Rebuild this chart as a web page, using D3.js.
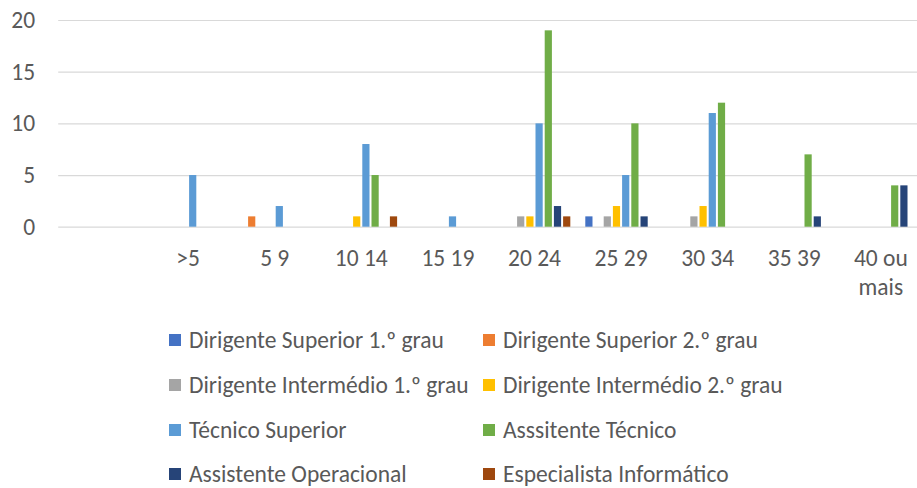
<!DOCTYPE html>
<html>
<head>
<meta charset="utf-8">
<script src="https://cdn.jsdelivr.net/npm/d3@7"></script>
<style>
  body { margin: 0; background: #fff; }
  text { font-family: Calibri, Carlito, Lato, sans-serif; fill: #595959; }
</style>
</head>
<body>
<div id="chart"></div>
<script>
// Categorias (a primeira vem vazia na folha original)
const categorias = ["", ">5", "5 9", "10 14", "15 19", "20 24", "25 29", "30 34", "35 39", "40 ou mais"];

// Series (nomes e valores por categoria)
const series = [
  "Dirigente Superior 1.º grau",
  "Dirigente Superior 2.º grau",
  "Dirigente Intermédio 1.º grau",
  "Dirigente Intermédio 2.º grau",
  "Técnico Superior",
  "Asssitente Técnico",
  "Assistente Operacional",
  "Especialista Informático"
];
const dirigenteSup1 = [0, 0, 0, 0, 0, 0, 1, 0, 0, 0];
const dirigenteSup2 = [0, 0, 1, 0, 0, 0, 0, 0, 0, 0];
const dirigenteInt1 = [0, 0, 0, 0, 0, 1, 1, 1, 0, 0];
const dirigenteInt2 = [0, 0, 0, 1, 0, 1, 2, 2, 0, 0];
const tecnicoSup    = [0, 5, 2, 8, 1, 10, 5, 11, 0, 0];
const assistTecnico = [0, 0, 0, 5, 0, 19, 10, 12, 7, 4];
const assistOperac  = [0, 0, 0, 0, 0, 2, 1, 0, 1, 4];
const especInform   = [0, 0, 0, 1, 0, 1, 0, 0, 0, 0];
const valores = [dirigenteSup1, dirigenteSup2, dirigenteInt1, dirigenteInt2,
                 tecnicoSup, assistTecnico, assistOperac, especInform];

// Marcas do eixo Y
const ticksY = [0, 5, 10, 15, 20];

const cores = ["#4472C4", "#ED7D31", "#A5A5A5", "#FFC000", "#5B9BD5", "#70AD47", "#264478", "#9E480E"];

const W = 917, H = 488;
const fonte = 23.5;

const svg = d3.select("#chart").append("svg")
  .attr("width", W).attr("height", H);

// Escalas
const x0 = d3.scaleBand().domain(categorias).range([58.2, 924.2]);
const larguraGrupo = x0.bandwidth() * 0.85;
const x1 = d3.scaleBand().domain(series)
  .range([(x0.bandwidth() - larguraGrupo) / 2, (x0.bandwidth() + larguraGrupo) / 2]);
const y = d3.scaleLinear().domain([0, 20]).range([226.7, 20]);

// Eixo Y com linhas de grelha
const eixoY = svg.append("g")
  .attr("transform", `translate(58.2,0)`)
  .call(d3.axisLeft(y).tickValues(ticksY).tickSize(-(W - 58.2)).tickPadding(23));
eixoY.select(".domain").remove();
eixoY.selectAll(".tick line").attr("stroke", "#d9d9d9").attr("stroke-width", 1.2);
eixoY.selectAll(".tick text")
  .style("font-size", fonte + "px").attr("fill", "#595959");

// Barras
const grupos = svg.append("g").selectAll("g")
  .data(categorias)
  .join("g")
  .attr("transform", d => `translate(${x0(d)},0)`);

grupos.selectAll("rect")
  .data((c, i) => series.map((s, j) => ({serie: s, valor: valores[j][i], cor: cores[j]})))
  .join("rect")
  .attr("x", d => x1(d.serie) + 1)
  .attr("width", x1.bandwidth() - 2)
  .attr("y", d => y(d.valor))
  .attr("height", d => y(0) - y(d.valor))
  .attr("fill", d => d.cor);

// Eixo X
const eixoX = svg.append("g")
  .attr("transform", `translate(0,${y(0)})`)
  .call(d3.axisBottom(x0).tickSize(0).tickPadding(22.5));
eixoX.select(".domain").remove();
eixoX.selectAll(".tick text")
  .style("font-size", fonte + "px").attr("fill", "#595959")
  .call(quebrar, x0.bandwidth());

// Quebra de linha dos rotulos compridos
function quebrar(textos, largura) {
  textos.each(function() {
    const t = d3.select(this);
    const palavras = t.text().split(/\s+/);
    const yy = t.attr("y"), dy = parseFloat(t.attr("dy"));
    t.text(null);
    let linha = [], n = 0;
    let ts = t.append("tspan").attr("x", 0).attr("y", yy).attr("dy", dy + "em");
    palavras.forEach(p => {
      linha.push(p);
      ts.text(linha.join(" "));
      if (ts.node().getComputedTextLength() > largura && linha.length > 1) {
        linha.pop();
        ts.text(linha.join(" "));
        linha = [p];
        n++;
        ts = t.append("tspan").attr("x", 0).attr("y", yy)
          .attr("dy", (n * 1.22 + dy) + "em").text(p);
      }
    });
  });
}

// Legenda
const colunasX = [169, 483];
const linhasY = [340, 385, 430, 474];
const legenda = svg.append("g").selectAll("g")
  .data(series)
  .join("g")
  .attr("transform", (d, i) => `translate(${colunasX[i % 2]},${linhasY[Math.floor(i / 2)]})`);

legenda.append("rect")
  .attr("x", 0).attr("y", -6).attr("width", 12).attr("height", 12)
  .attr("fill", (d, i) => cores[i]);

legenda.append("text")
  .attr("x", 20).attr("y", 0).attr("dy", "0.36em")
  .style("font-size", fonte + "px")
  .text(d => d);
</script>
</body>
</html>
